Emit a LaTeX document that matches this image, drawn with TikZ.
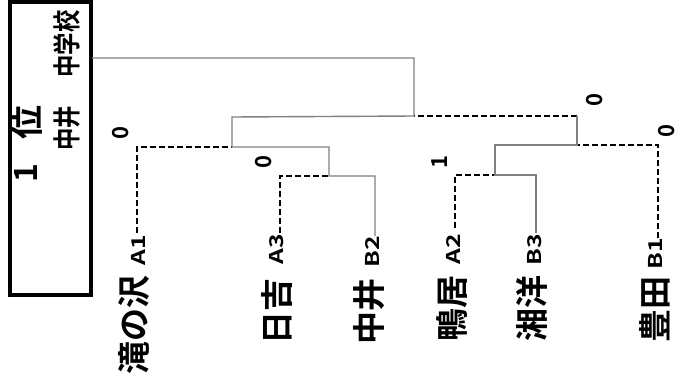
\documentclass[tikz,border=0pt]{standalone}
\usepackage{fontspec}
\usepackage{graphicx}
\setmainfont{Noto Sans CJK JP}[BoldFont={Noto Sans CJK JP Bold}]
\tikzset{
  gana/.style={draw=gray, line width=1.4pt},
  pierde/.style={draw=black, line width=1.7pt, dash pattern=on 6pt off 3pt},
  equipo/.style={rotate=90, anchor=east, inner sep=0pt, font=\fontsize{33}{33}\selectfont\bfseries},
  codigo/.style={rotate=90, anchor=east, inner sep=0pt, font=\fontsize{19}{19}\selectfont\bfseries},
  tanteo/.style={rotate=90, inner sep=0pt, font=\fontsize{22}{22}\selectfont\bfseries},
}
\begin{document}
\begin{tikzpicture}[x=1pt,y=-1pt]
\useasboundingbox (0,0) rectangle (680,389);
% Recuadro del campeon
\draw[line width=4pt] (10,2) rectangle (91,295);
\node[rotate=90, inner sep=0pt, font=\fontsize{32}{32}\selectfont\bfseries] (uno) at (26,173) {1};
\node[rotate=90, inner sep=0pt, font=\fontsize{34}{34}\selectfont\bfseries] (puesto) at (27,122) {位};
\node[rotate=90, inner sep=0pt, font=\fontsize{28}{28}\selectfont\bfseries] (campeon) at (67,128) {\scalebox{0.8}[1]{中井}};
\node[rotate=90, inner sep=0pt, font=\fontsize{28}{28}\selectfont\bfseries] (escuela) at (67,44) {\scalebox{0.8}[1]{中学校}};
\coordinate (caja) at (92,58);
% Equipos
\coordinate (e1) at (137,233);
\coordinate (e2) at (280,233);
\coordinate (e3) at (375,236);
\coordinate (e4) at (455,228);
\coordinate (e5) at (536,233);
\coordinate (e6) at (658,238);
\node[codigo] (c1) at (138,235) {\scalebox{1.3}[1]{A1}};
\node[codigo] (c2) at (277,234) {\scalebox{1.3}[1]{A3}};
\node[codigo] (c3) at (372,236) {\scalebox{1.3}[1]{B2}};
\node[codigo] (c4) at (453,234) {\scalebox{1.3}[1]{A2}};
\node[codigo] (c5) at (535,234) {\scalebox{1.3}[1]{B3}};
\node[codigo] (c6) at (655,238) {\scalebox{1.3}[1]{B1}};
\node[equipo] (n1) at (134,275) {滝の沢};
\node[equipo] (n2) at (277,278) {日吉};
\node[equipo] (n3) at (369,278) {中井};
\node[equipo] (n4) at (452,275) {鴨居};
\node[equipo] (n5) at (532,275) {湘洋};
\node[equipo] (n6) at (655,276) {豊田};
% Cruces
\coordinate (p1) at (137,147);
\coordinate (p2) at (280,176);
\coordinate (p3) at (375,176);
\coordinate (p4) at (455,175);
\coordinate (p5) at (536,175);
\coordinate (p6) at (658,145);
\coordinate (m1) at (329,176);
\coordinate (m1a) at (329,147);
\coordinate (m2) at (232,147);
\coordinate (m2a) at (232,117);
\coordinate (m3) at (495,175);
\coordinate (m3a) at (495,145);
\coordinate (m4) at (577,145);
\coordinate (m4a) at (577,116);
\coordinate (f) at (414,116);
\coordinate (fa) at (414,58);
% Perdedores
\draw[pierde] (e1) -- (p1) -- (m2);
\draw[pierde] (e2) -- (p2) -- (m1);
\draw[pierde] (e4) -- (p4) -- (m3);
\draw[pierde] (e6) -- (p6) -- (m4);
\draw[pierde] (m4a) -- (f);
% Ganadores
\draw[gana] (e3) -- (p3) -- (m1) -- (m1a) -- (m2) -- (m2a) -- (f) -- (fa) -- (caja);
\draw[gana] (e5) -- (p5) -- (m3) -- (m3a) -- (m4) -- (m4a);
% Tanteos
\node[tanteo] (t1) at (121,133) {0};
\node[tanteo] (t2) at (264,162) {0};
\node[tanteo] (t3) at (440,162) {1};
\node[tanteo] (t4) at (595,100) {0};
\node[tanteo] (t5) at (667,131) {0};
\end{tikzpicture}
\end{document}
